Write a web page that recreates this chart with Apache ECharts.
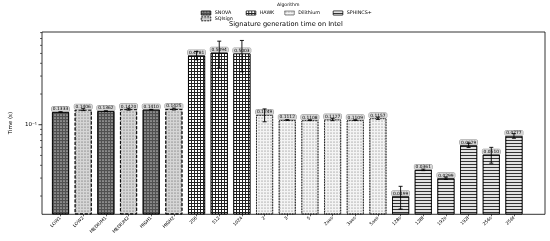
<!DOCTYPE html>
<html><head><meta charset="utf-8">
<script src="https://cdn.jsdelivr.net/npm/echarts@6/dist/echarts.min.js"></script>
<style>html,body{margin:0;padding:0;background:#fff}#c{width:550px;height:241px}</style>
</head><body><div id="c"></div>
<script>
const categories = ['LOW1','LOW2','MEDIUM1','MEDIUM2','HIGH1','HIGH2','256','512','1024','2','3','5','2aes','3aes','5aes','128s','128f','192s','192f','256s','256f'];
const algorithms = ['SNOVA','SQIsign','HAWK','Dilithium','SPHINCS+'];
const categoryAlgorithm = ['SNOVA','SQIsign','SNOVA','SQIsign','SNOVA','SQIsign','HAWK','HAWK','HAWK','Dilithium','Dilithium','Dilithium','Dilithium','Dilithium','Dilithium','SPHINCS+','SPHINCS+','SPHINCS+','SPHINCS+','SPHINCS+','SPHINCS+'];
const times = [0.1333,0.1406,0.1362,0.1420,0.1410,0.1425,0.4781,0.5094,0.5003,0.1249,0.1112,0.1108,0.1127,0.1109,0.1157,0.0199,0.0361,0.0299,0.0629,0.0510,0.0777];
const errors = [0.0005,0.003,0.0005,0.003,0.0005,0.003,0.045,0.15,0.17,0.018,0.001,0.001,0.003,0.001,0.003,0.005,0.0006,0.0008,0.003,0.009,0.004];
const yMin = 0.01324, yMax = 0.811;
const majorTicks = [0.1];
const minorTicks = [0.02,0.03,0.04,0.05,0.06,0.07,0.08,0.09,0.2,0.3,0.4,0.5,0.6,0.7,0.8];

const styles = {
  'SNOVA':    {color:'#505050', borderType:'solid',  decal:{symbol:'circle', symbolSize:0.85, color:'#b8b8b8', dashArrayX:[2,1], dashArrayY:[2,1]}},
  'SQIsign':  {color:'#d6d6d6', borderType:'dashed', decal:{symbol:'circle', symbolSize:0.55, color:'#4a4a4a', dashArrayX:[2,1], dashArrayY:[2,1]}},
  'HAWK':     {color:'#222222', borderType:'solid',  decal:{symbol:'rect', symbolSize:1, color:'#ffffff', dashArrayX:[2,1], dashArrayY:[2,1]}},
  'Dilithium':{color:'#f4f4f4', borderType:'dotted', decal:{symbol:'circle', symbolSize:0.5, color:'#555', dashArrayX:[2,1], dashArrayY:[2,1]}},
  'SPHINCS+': {color:'#333333', borderType:'solid',  decal:{symbol:'rect', symbolSize:1, color:'#e2e2e2', dashArrayX:[[1,0]], dashArrayY:[2,1]}}
};

const barSeries = algorithms.map(a => ({
  name: a, type: 'bar', xAxisIndex: 0, yAxisIndex: 0,
  barWidth: 17, barGap: '-100%',
  data: times.map((v, i) => categoryAlgorithm[i] === a ? v : '-'),
  itemStyle: {color: styles[a].color, borderColor: '#000', borderWidth: 0.8, borderType: styles[a].borderType, decal: styles[a].decal},
  label: {show: true, position: 'top', distance: 0.5, formatter: p => Number(p.value).toFixed(4),
    fontSize: 4.4, color: '#000', backgroundColor: '#d8d8d8', borderColor: '#8a8a8a', borderWidth: 0.5,
    borderRadius: 1, padding: [0.6, 1.2, 0.2, 1.2], fontFamily: 'DejaVu Sans'},
  emphasis: {disabled: true}, animation: false
}));

const errorSeries = {
  type: 'custom', xAxisIndex: 0, yAxisIndex: 0, z: 5, silent: true, clip: false,
  data: times.map((v, i) => [i, v - errors[i], v + errors[i]]),
  renderItem: (params, api) => {
    const i = api.value(0);
    const lo = api.coord([i, api.value(1)]);
    const hi = api.coord([i, api.value(2)]);
    const cw = 2;
    const st = {stroke: '#000', lineWidth: 0.9};
    return {type: 'group', children: [
      {type: 'line', shape: {x1: lo[0], y1: lo[1], x2: hi[0], y2: hi[1]}, style: st},
      {type: 'line', shape: {x1: hi[0]-cw, y1: hi[1], x2: hi[0]+cw, y2: hi[1]}, style: st},
      {type: 'line', shape: {x1: lo[0]-cw, y1: lo[1], x2: lo[0]+cw, y2: lo[1]}, style: st}
    ]};
  }
};

const tickSeries = {
  type: 'custom', xAxisIndex: 1, yAxisIndex: 1, silent: true, clip: false, z: 6,
  data: majorTicks.map(v => [0, v, 1]).concat(minorTicks.map(v => [0, v, 0])),
  renderItem: (params, api) => {
    const p = api.coord([0, api.value(1)]);
    const len = api.value(2) ? 3.5 : 2;
    return {type: 'line', shape: {x1: p[0]-len, y1: p[1], x2: p[0], y2: p[1]}, style: {stroke: '#000', lineWidth: api.value(2) ? 0.8 : 0.6}};
  }
};

const legendPos = {'SNOVA':[201,10.5], 'SQIsign':[201,16.3], 'HAWK':[246,10.5], 'Dilithium':[284.5,10.5], 'SPHINCS+':[333,10.5]};
const legends = algorithms.map(a => ({
  data: [a], left: legendPos[a][0], top: legendPos[a][1], padding: 0, itemGap: 0,
  itemWidth: 9.5, itemHeight: 4, icon: 'rect', selectedMode: false,
  itemStyle: {color: styles[a].color, borderColor: '#000', borderWidth: 0.5, borderType: styles[a].borderType, decal: styles[a].decal},
  textStyle: {fontSize: 4.8, color: '#000', fontFamily: 'DejaVu Sans', padding: [0,0,0,-1]}
}));

const chart = echarts.init(document.getElementById('c'), null, {renderer: 'canvas'});
chart.setOption({
  animation: false,
  textStyle: {fontFamily: 'DejaVu Sans'},
  title: [
    {text: 'Signature generation time on Intel', left: 229, top: 20.5, padding: 0,
      textStyle: {fontSize: 6.6, fontWeight: 'normal', color: '#000', fontFamily: 'DejaVu Sans'}},
    {text: 'Algorithm', left: 277, top: 2.5, padding: 0,
      textStyle: {fontSize: 4.6, fontWeight: 'normal', color: '#000', fontFamily: 'DejaVu Sans'}}
  ],
  legend: legends,
  grid: [
    {left: 49.2, right: 24.7, top: 32, bottom: 26.7, containLabel: false},
    {left: 29.3, right: 5, top: 32, bottom: 26.7, show: true, borderColor: '#000', borderWidth: 0.8, backgroundColor: 'transparent', containLabel: false}
  ],
  xAxis: [
    {type: 'category', gridIndex: 0, data: categories, boundaryGap: true,
      axisLine: {show: false}, axisTick: {show: true, alignWithLabel: true, length: 2, lineStyle: {color: '#000', width: 0.6}},
      axisLabel: {rotate: 45, fontSize: 4.5, color: '#000', margin: 3, interval: 0, fontFamily: 'DejaVu Sans'}, splitLine: {show: false}},
    {type: 'value', gridIndex: 1, min: 0, max: 1, show: false}
  ],
  yAxis: [
    {type: 'log', gridIndex: 0, logBase: 10, min: yMin, max: yMax, startValue: yMin, show: false},
    {type: 'log', gridIndex: 1, logBase: 10, min: yMin, max: yMax,
      axisLine: {show: false}, axisTick: {show: false}, splitLine: {show: false},
      axisLabel: {fontSize: 5.5, color: '#000', margin: 5, fontFamily: 'DejaVu Sans',
        formatter: v => Math.abs(Math.log10(v) + 1) < 1e-6 ? '10\u207B\u00B9' : ''},
      name: 'Time (s)', nameLocation: 'middle', nameGap: 19,
      nameTextStyle: {fontSize: 5.5, color: '#000', fontFamily: 'DejaVu Sans'}}
  ],
  series: barSeries.concat([errorSeries, tickSeries])
});
</script></body></html>
